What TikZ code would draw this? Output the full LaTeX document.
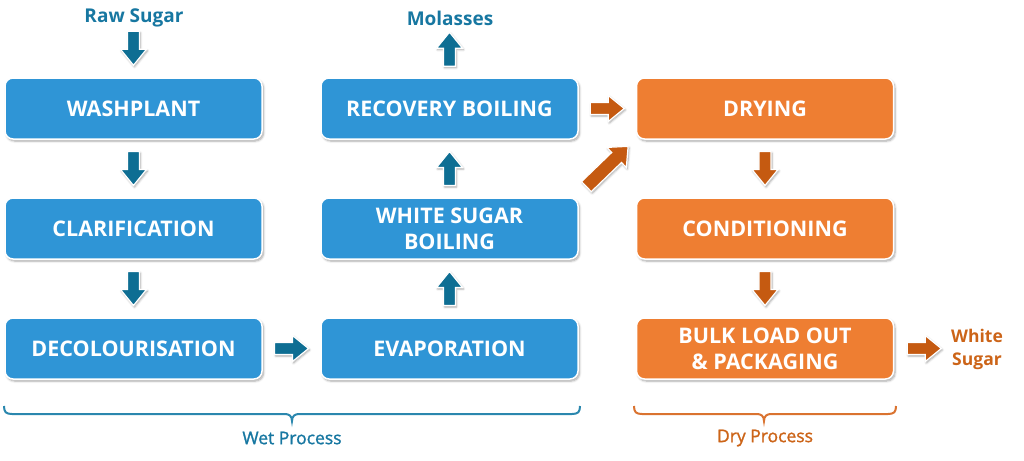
\documentclass[tikz,border=0pt]{standalone}
\usepackage{fontspec}
\setmainfont{Open Sans}
\newfontfamily\semifont[FakeBold=1.3]{Open Sans}
\usetikzlibrary{shadows.blur,calc}
\definecolor{boxblue}{HTML}{2F95D6}
\definecolor{boxorange}{HTML}{EE7E32}
\definecolor{arrblue}{HTML}{0E6E93}
\definecolor{arrorange}{HTML}{C55A11}
\definecolor{txtblue}{HTML}{1777A1}
\definecolor{txtorange}{HTML}{CC6418}
\definecolor{braceblue}{HTML}{2A87AE}
\definecolor{braceorange}{HTML}{DA7330}
\tikzset{
  procbox/.style={draw=white, line width=1.5pt, rounded corners=8pt,
    minimum width=257pt, minimum height=61pt, inner sep=0pt,
    text=white, align=center, font=\bfseries\fontsize{21.5}{26}\selectfont,
    blur shadow={shadow xshift=1.5pt, shadow yshift=-2pt, shadow blur steps=6, shadow opacity=35}},
  bluebox/.style={procbox, fill=boxblue},
  orangebox/.style={procbox, fill=boxorange},
  endlabel/.style={font=\bfseries\fontsize{19}{23}\selectfont, align=center, inner sep=0pt},
  endlabelsmall/.style={font=\bfseries\fontsize{17.5}{23}\selectfont, align=center, inner sep=0pt},
  bracelabel/.style={font=\semifont\fontsize{17.5}{20}\selectfont, inner sep=0pt},
  barrow/.pic={\path[pic actions, draw=white, line width=1.2pt,
      blur shadow={shadow xshift=1pt, shadow yshift=-1.5pt, shadow blur steps=5, shadow opacity=35}]
      (-17,-6) -- (1,-6) -- (1,-13) -- (17,0) -- (1,13) -- (1,6) -- (-17,6) -- cycle;},
  barrowlong/.pic={\path[pic actions, draw=white, line width=1.2pt,
      blur shadow={shadow xshift=1pt, shadow yshift=-1.5pt, shadow blur steps=5, shadow opacity=35}]
      (-29,-7) -- (13,-7) -- (13,-14) -- (29,0) -- (13,14) -- (13,7) -- (-29,7) -- cycle;}
}
\begin{document}
\begin{tikzpicture}[x=1pt,y=-1pt]
\useasboundingbox (0,0) rectangle (1024,460);
% boxes
\node[bluebox] (wash) at (133.5,108.5) {WASHPLANT};
\node[bluebox] (clar) at (133.5,228.5) {CLARIFICATION};
\node[bluebox] (deco) at (133.5,348.5) {DECOLOURISATION};
\node[bluebox] (reco) at (449.5,108.5) {RECOVERY BOILING};
\node[bluebox] (whit) at (449.5,228.5) {WHITE SUGAR\\BOILING};
\node[bluebox] (evap) at (449.5,348.5) {EVAPORATION};
\node[orangebox] (dry) at (765,108.5) {DRYING};
\node[orangebox] (cond) at (765,228.5) {CONDITIONING};
\node[orangebox] (bulk) at (765,348.5) {BULK LOAD OUT\\\& PACKAGING};
% end labels
\node[endlabel, text=txtblue] (raw) at (134,18) {Raw Sugar};
\node[endlabel, text=txtblue] (mol) at (450,18) {Molasses};
\node[endlabelsmall, text=txtorange] (ws) at (977,349) {White\\Sugar};
% arrows
\pic[fill=arrblue, rotate=-90] at ($(wash.north)+(0,-29)$) {barrow};
\pic[fill=arrblue, rotate=-90] at ($(wash.south)!0.5!(clar.north)$) {barrow};
\pic[fill=arrblue, rotate=-90] at ($(clar.south)!0.5!(deco.north)$) {barrow};
\pic[fill=arrblue] at ($(deco.east)!0.5!(evap.west)$) {barrow};
\pic[fill=arrblue, rotate=90] at ($(evap.north)!0.5!(whit.south)$) {barrow};
\pic[fill=arrblue, rotate=90] at ($(whit.north)!0.5!(reco.south)$) {barrow};
\pic[fill=arrblue, rotate=90] at ($(reco.north)+(0,-28)$) {barrow};
\pic[fill=arrorange] at ($(reco.east)!0.5!(dry.west)$) {barrow};
\pic[fill=arrorange, rotate=44] at ($(whit.north east)!0.5!(dry.south west)+(0,-2)$) {barrowlong};
\pic[fill=arrorange, rotate=-90] at ($(dry.south)!0.5!(cond.north)$) {barrow};
\pic[fill=arrorange, rotate=-90] at ($(cond.south)!0.5!(bulk.north)$) {barrow};
\pic[fill=arrorange] at ($(bulk.east)+(30,0)$) {barrow};
% braces
\coordinate (wl) at (4,406);
\coordinate (wr) at (580,406);
\draw[braceblue, line width=2pt]
  (wl) .. controls (4,412) and (6,414) .. (12,414) -- (285,414)
  .. controls (289,414) and (292,416) .. (292,421)
  .. controls (292,416) and (295,414) .. (299,414) -- (572,414)
  .. controls (578,414) and (580,412) .. (wr);
\node[bracelabel, text=txtblue] (wetl) at (292,438) {Wet Process};
\coordinate (dl) at (634,406);
\coordinate (dr) at (896,406);
\draw[braceorange, line width=2pt]
  (dl) .. controls (634,412) and (636,414) .. (642,414) -- (757,414)
  .. controls (761,414) and (764,416) .. (764,421)
  .. controls (764,416) and (767,414) .. (771,414) -- (888,414)
  .. controls (894,414) and (896,412) .. (dr);
\node[bracelabel, text=txtorange] (dryl) at (765,438) {Dry Process};
\end{tikzpicture}
\end{document}
